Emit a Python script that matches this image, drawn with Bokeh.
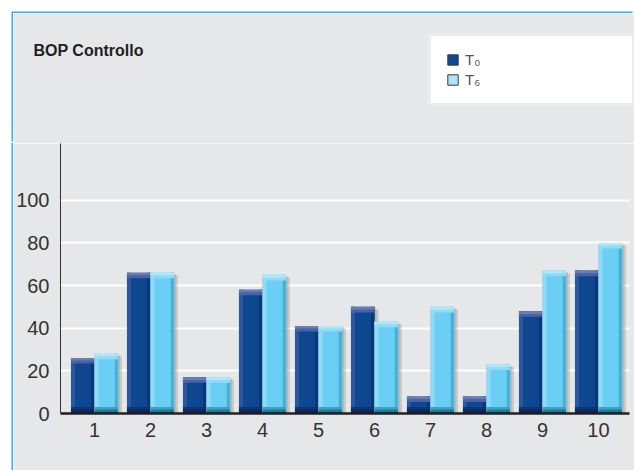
from bokeh.plotting import figure
from bokeh.models import Range1d, FixedTicker, Label, Legend, LegendItem
from bokeh.embed import file_html
from bokeh.resources import INLINE

# Data
groups = [1, 2, 3, 4, 5, 6, 7, 8, 9, 10]
t0 = [26, 66, 17, 58, 41, 50, 8, 8, 48, 67]
t6 = [28, 66, 17, 65, 41, 43, 50, 23, 67, 80]
y_ticks = [0, 20, 40, 60, 80, 100]
series_names = ["T\u2080", "T\u2086"]
title_text = "BOP Controllo"

FONT = "'Liberation Sans Narrow', 'Liberation Sans', sans-serif"
PANEL = "#e6e7e9"
FRAME_BLUE = "#2fb2e6"
NAN = float("nan")

PW = 621          # inner panel width
HEAD_H = 130      # header strip (title + legend)
CHART_H = 327     # chart area

# ---------- header: title and legend ----------
head = figure(width=PW, height=HEAD_H, output_backend="svg", toolbar_location=None,
              x_range=Range1d(0, PW), y_range=Range1d(0, HEAD_H),
              x_axis_location=None, y_axis_location=None,
              min_border_left=0, min_border_right=0, min_border_top=0, min_border_bottom=0,
              background_fill_color=PANEL, border_fill_color=PANEL, outline_line_color=None,
              margin=(13, 0, 0, 13),
              styles={"box-shadow": f"-1.5px -1.5px 0 0 {FRAME_BLUE}", "vertical-align": "top"})
head.xgrid.grid_line_color = None
head.ygrid.grid_line_color = None

# swatch-only renderers for the legend (no geometry of their own)
r0 = head.quad(left=[NAN], right=[NAN], bottom=[NAN], top=[NAN], fill_color="#0e4a94",
               line_color="#3a3a3a", line_width=1)
r6 = head.quad(left=[NAN], right=[NAN], bottom=[NAN], top=[NAN], fill_color="#aee3fb",
               line_color="#3a3a3a", line_width=1)
legend = Legend(items=[LegendItem(label=series_names[0], renderers=[r0]),
                       LegendItem(label=series_names[1], renderers=[r6])],
                location=(415, 37), orientation="vertical",
                background_fill_color="#ffffff", background_fill_alpha=1,
                border_line_color="#d8d9db", border_line_width=3,
                padding=15, spacing=3, margin=0,
                glyph_width=13, glyph_height=13, label_standoff=6, label_width=152, label_height=14,
                label_text_font=FONT, label_text_font_size="15px", label_text_color="#555555")
head.add_layout(legend, "center")

head.add_layout(Label(x=20, y=HEAD_H - 36.7, x_units="screen", y_units="screen", text=title_text,
                      text_font=FONT, text_font_size="16px", text_font_style="bold",
                      text_color="#231f20", text_baseline="alphabetic", text_align="left"))

# ---------- chart ----------
p = figure(width=PW, height=CHART_H, output_backend="svg", toolbar_location=None,
           x_range=Range1d(0.393, 10.554), y_range=Range1d(0, 126.6),
           min_border_left=47, min_border_right=5, min_border_top=0, min_border_bottom=57,
           background_fill_color=PANEL, border_fill_color=PANEL, outline_line_color=None,
           margin=(0, 0, 0, 13),
           styles={"box-shadow": f"-1.5px 0 0 0 {FRAME_BLUE}", "vertical-align": "top"})

p.xaxis.ticker = FixedTicker(ticks=groups)
p.yaxis.ticker = FixedTicker(ticks=y_ticks)
for ax in (p.xaxis[0], p.yaxis[0]):
    ax.major_tick_line_color = None
    ax.minor_tick_line_color = None
    ax.major_tick_out = 0
    ax.major_tick_in = 0
    ax.major_label_text_font = FONT
    ax.major_label_text_font_size = "20px"
    ax.major_label_text_color = "#333333"
p.xaxis.axis_line_color = "#231f20"
p.xaxis.axis_line_width = 2.5
p.xaxis.major_label_standoff = 9
p.yaxis.axis_line_color = "#333333"
p.yaxis.axis_line_width = 1
p.yaxis.major_label_standoff = 11

p.xgrid.grid_line_color = None
p.ygrid.grid_line_color = "#ffffff"
p.ygrid.grid_line_width = 2.2

# bars with a bevelled look
bw = 0.42
off = 0.21
cap = 2.6
foot = 3.0


def bevel_bar(xs, vals, c):
    # soft drop shadow
    p.vbar(x=[x + 0.07 for x in xs], width=bw, bottom=0, top=[v - 1.2 for v in vals],
           fill_color="#7d8088", fill_alpha=0.30, line_color=None)
    p.vbar(x=[x + 0.035 for x in xs], width=bw, bottom=0, top=[v - 0.6 for v in vals],
           fill_color="#7d8088", fill_alpha=0.25, line_color=None)
    # body
    p.vbar(x=xs, width=bw, bottom=0, top=vals, fill_color=c["body"], line_color=None)
    # left highlight and right shade
    p.vbar(x=[x - bw / 2 + 0.035 for x in xs], width=0.07, bottom=0, top=vals,
           fill_color=c["left"], line_color=None)
    p.vbar(x=[x + bw / 2 - 0.03 for x in xs], width=0.06, bottom=0, top=vals,
           fill_color=c["right"], line_color=None)
    # top cap
    p.vbar(x=xs, width=bw, bottom=[v - cap for v in vals], top=[v - cap / 2 for v in vals],
           fill_color=c["cap2"], line_color=None)
    p.vbar(x=xs, width=bw, bottom=[v - cap / 2 for v in vals], top=vals,
           fill_color=c["cap1"], line_color=None)
    # dark foot
    p.vbar(x=xs, width=bw, bottom=foot * 2 / 3, top=[min(v, foot) for v in vals],
           fill_color=c["foot3"], line_color=None)
    p.vbar(x=xs, width=bw, bottom=foot / 3, top=[min(v, foot * 2 / 3) for v in vals],
           fill_color=c["foot2"], line_color=None)
    p.vbar(x=xs, width=bw, bottom=0, top=[min(v, foot / 3) for v in vals],
           fill_color=c["foot1"], line_color=None)


dark = dict(body="#0f4690", left="#2c58a0", right="#0b3674", cap1="#6a7cb6", cap2="#4a63a4",
            foot3="#0d3676", foot2="#0b2860", foot1="#081a48")
light = dict(body="#6bcef4", left="#8edbf7", right="#45b2d8", cap1="#b0e7f9", cap2="#92dbf6",
             foot3="#3fa2c0", foot2="#1d7e98", foot1="#0c6078")

bevel_bar([g - off for g in groups], t0, dark)
bevel_bar([g + off for g in groups], t6, light)

# header and chart as two stacked roots
open("out.html", "w").write(file_html([head, p], INLINE))
